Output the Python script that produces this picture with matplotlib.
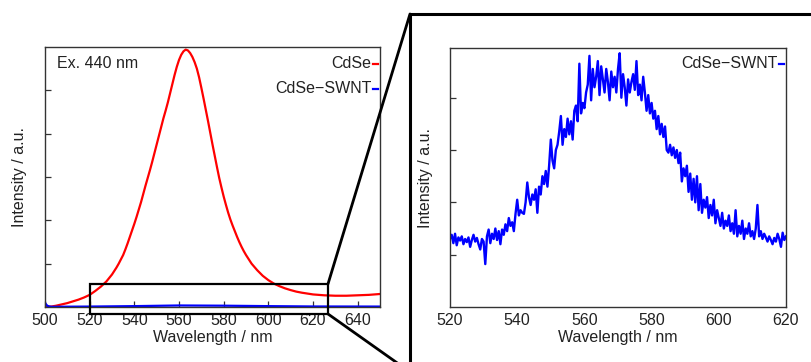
import matplotlib
matplotlib.use("Agg")
import matplotlib.pyplot as plt
from matplotlib.patches import Rectangle, ConnectionPatch
from matplotlib.lines import Line2D

plt.rcParams['font.family'] = ['Liberation Sans', 'DejaVu Sans']

# ---- Left panel data (CdSe, red) ----
cdse_wl = [500, 501, 502, 503, 505, 507.5, 510, 512.5, 515, 517.5, 520, 522.5, 525,
           527.5, 530, 531, 532, 533, 534, 535, 536, 537, 538, 539,
           540, 541, 542, 543, 544, 545, 546, 547, 548, 549,
           550, 551, 552, 553, 554, 555, 556, 557, 558, 559,
           560, 561, 562, 563, 564, 565, 566, 567, 568, 569,
           570, 571, 572, 573, 574, 575, 576, 577, 578, 579,
           580, 581, 582, 583, 584, 585, 586, 587, 588, 589,
           590, 592.5, 595, 597.5, 600, 602.5, 605, 607.5, 610, 612.5,
           615, 617.5, 620, 622.5, 625, 630, 635, 640, 645, 650]
cdse_int = [0.02, 0.015, 0.01, 0.012, 0.03, 0.06, 0.09, 0.13, 0.17, 0.22, 0.28, 0.37, 0.47,
            0.59, 0.75, 0.83, 0.91, 1.00, 1.10, 1.20, 1.33, 1.47, 1.62, 1.77,
            1.92, 2.08, 2.25, 2.42, 2.61, 2.80, 2.98, 3.16, 3.35, 3.55,
            3.75, 3.95, 4.15, 4.35, 4.53, 4.72, 4.93, 5.14, 5.35, 5.54,
            5.70, 5.82, 5.90, 5.94, 5.92, 5.86, 5.77, 5.65, 5.50, 5.30,
            5.06, 4.81, 4.55, 4.29, 4.02, 3.75, 3.49, 3.23, 2.98, 2.76,
            2.55, 2.36, 2.18, 2.02, 1.88, 1.75, 1.62, 1.50, 1.39, 1.29,
            1.20, 1.00, 0.85, 0.72, 0.62, 0.54, 0.48, 0.43, 0.39, 0.355,
            0.33, 0.31, 0.29, 0.28, 0.27, 0.26, 0.26, 0.27, 0.28, 0.30]

# ---- Left panel data (CdSe-SWNT, blue, same scale as CdSe) ----
swnt_full_wl = [500, 500.5, 501, 502, 503, 520, 540, 560, 580, 600, 620, 650]
swnt_full_int = [0.10, 0.06, 0.03, 0.01, 0.005, 0.01, 0.02, 0.035, 0.03, 0.02, 0.012, 0.01]

# ---- Right panel data (CdSe-SWNT zoom, 0.5 nm steps from 520 to 620) ----
swnt_zoom_int = [
    1.30, 1.38, 1.22, 1.40, 1.18, 1.33, 1.27, 1.35, 1.20, 1.30,
    1.24, 1.33, 1.15, 1.28, 1.38, 1.25, 1.32, 1.20, 1.10, 1.30,
    1.25, 0.82, 1.35, 1.48, 1.22, 1.40, 1.30, 1.50, 1.28, 1.45,
    1.20, 1.48, 1.38, 1.58, 1.45, 1.70, 1.55, 1.62, 1.45, 1.78,
    2.05, 1.75, 1.85, 1.80, 1.78, 2.00, 2.38, 2.10, 1.95, 2.15,
    2.05, 2.25, 1.80, 2.30, 2.15, 2.50, 2.35, 2.60, 2.30, 2.70,
    3.20, 2.80, 2.65, 3.00, 3.10, 3.35, 3.65, 3.10, 3.40, 3.25,
    3.60, 3.30, 3.55, 3.20, 3.75, 3.85, 3.55, 4.65, 3.70, 3.90,
    3.80, 4.10, 4.25, 4.80, 3.95, 4.55, 4.20, 4.40, 4.70, 4.05,
    4.60, 4.35, 4.10, 4.55, 4.30, 3.95, 4.50, 4.20, 4.40, 4.10,
    4.55, 4.85, 4.00, 4.45, 4.20, 3.85, 4.35, 4.10, 4.30, 4.45,
    4.15, 4.70, 4.05, 4.25, 3.95, 4.40, 4.10, 3.75, 4.05, 3.70,
    3.90, 3.60, 3.75, 3.40, 3.65, 3.30, 3.50, 3.25, 3.45, 3.00,
    2.95, 3.10, 2.90, 3.05, 2.85, 3.00, 2.75, 2.95, 2.40, 2.65,
    2.50, 2.70, 2.20, 2.55, 2.05, 2.45, 2.00, 2.50, 1.85, 2.35,
    1.80, 2.05, 1.90, 2.10, 1.70, 1.95, 1.75, 2.05, 1.60, 1.85,
    1.70, 1.55, 1.80, 1.50, 1.65, 1.55, 1.75, 1.45, 1.60, 1.40,
    1.85, 1.35, 1.55, 1.40, 1.65, 1.30, 1.50, 1.40, 1.60, 1.35,
    1.45, 1.30, 1.50, 1.95, 1.35, 1.45, 1.30, 1.40, 1.33, 1.25,
    1.35, 1.28, 1.20, 1.32, 1.25, 1.40, 1.30, 1.15, 1.42, 1.28,
    1.35]
swnt_zoom_wl = [520 + 0.5 * i for i in range(len(swnt_zoom_int))]

left_xticks = [500, 520, 540, 560, 580, 600, 620, 640]
right_xticks = [520, 540, 560, 580, 600, 620]

TXT = '#222222'
FS = 11.5

fig = plt.figure(figsize=(8.11, 3.62), dpi=100)
W, H = 811, 362

def ax_rect(l, t, r, b):
    return [l / W, 1 - b / H, (r - l) / W, (b - t) / H]

ax1 = fig.add_axes(ax_rect(45, 47, 380, 307))
ax2 = fig.add_axes(ax_rect(450, 48, 786, 307))

for ax in (ax1, ax2):
    for s in ax.spines.values():
        s.set_linewidth(1.0)
        s.set_color('#333333')
    ax.tick_params(direction='in', length=4, width=0.9, colors='#333333',
                   labelsize=FS, labelcolor=TXT, pad=4)

# Left
ax1.plot(cdse_wl, cdse_int, color='#ff0000', lw=1.6)
ax1.plot(swnt_full_wl, swnt_full_int, color='#0000ff', lw=1.6)
ax1.set_xlim(500, 650)
ax1.set_ylim(0, 6.0)
ax1.set_xticks(left_xticks)
ax1.set_yticks([1, 2, 3, 4, 5])
ax1.set_yticklabels([])
ax1.set_xlabel('Wavelength / nm', fontsize=FS, color=TXT, labelpad=2)
ax1.set_ylabel('Intensity / a.u.', fontsize=FS, color=TXT, labelpad=9)
ax1.text(0.035, 0.935, 'Ex. 440 nm', transform=ax1.transAxes, fontsize=FS,
         color=TXT, ha='left', va='center')
ax1.text(0.975, 0.935, 'CdSe', transform=ax1.transAxes, fontsize=FS,
         color=TXT, ha='right', va='center')
ax1.text(0.975, 0.84, 'CdSe\u2212SWNT', transform=ax1.transAxes, fontsize=FS,
         color=TXT, ha='right', va='center')
ax1.plot([0.979, 0.994], [0.935, 0.935], transform=ax1.transAxes, color='#ff0000', lw=1.6)
ax1.plot([0.979, 0.994], [0.84, 0.84], transform=ax1.transAxes, color='#0000ff', lw=1.6)

rect = Rectangle((520, -0.16), 106.7, 0.69, fill=False, edgecolor='black',
                 lw=1.6, clip_on=False, zorder=5)
ax1.add_patch(rect)

# Right
ax2.plot(swnt_zoom_wl, swnt_zoom_int, color='#0000ff', lw=1.7)
ax2.set_xlim(520, 620)
ax2.set_ylim(0, 4.95)
ax2.set_xticks(right_xticks)
ax2.tick_params(axis='x', length=0, pad=4)
ax2.set_yticks([1, 2, 3, 4])
ax2.set_yticklabels([])
ax2.set_xlabel('Wavelength / nm', fontsize=FS, color=TXT, labelpad=2)
ax2.set_ylabel('Intensity / a.u.', fontsize=FS, color=TXT, labelpad=8)
ax2.text(0.975, 0.94, 'CdSe\u2212SWNT', transform=ax2.transAxes, fontsize=FS,
         color=TXT, ha='right', va='center')
ax2.plot([0.979, 0.994], [0.94, 0.94], transform=ax2.transAxes, color='#0000ff', lw=1.6)

# Zoom connection lines and big box
bx, by = 410 / W, 1 - 14 / H
c1 = ConnectionPatch(xyA=(626.7, 0.53), coordsA=ax1.transData,
                     xyB=(bx, by), coordsB=fig.transFigure, color='black', lw=2.0)
c2 = ConnectionPatch(xyA=(626.7, -0.16), coordsA=ax1.transData,
                     xyB=(bx, 1 - 372 / H), coordsB=fig.transFigure, color='black', lw=2.0)
fig.add_artist(c1)
fig.add_artist(c2)
fig.add_artist(Line2D([bx, bx, 1.05], [-0.1, by, by], transform=fig.transFigure,
                      color='black', lw=2.2, solid_joinstyle='miter'))

fig.savefig('out.png', dpi=100)
